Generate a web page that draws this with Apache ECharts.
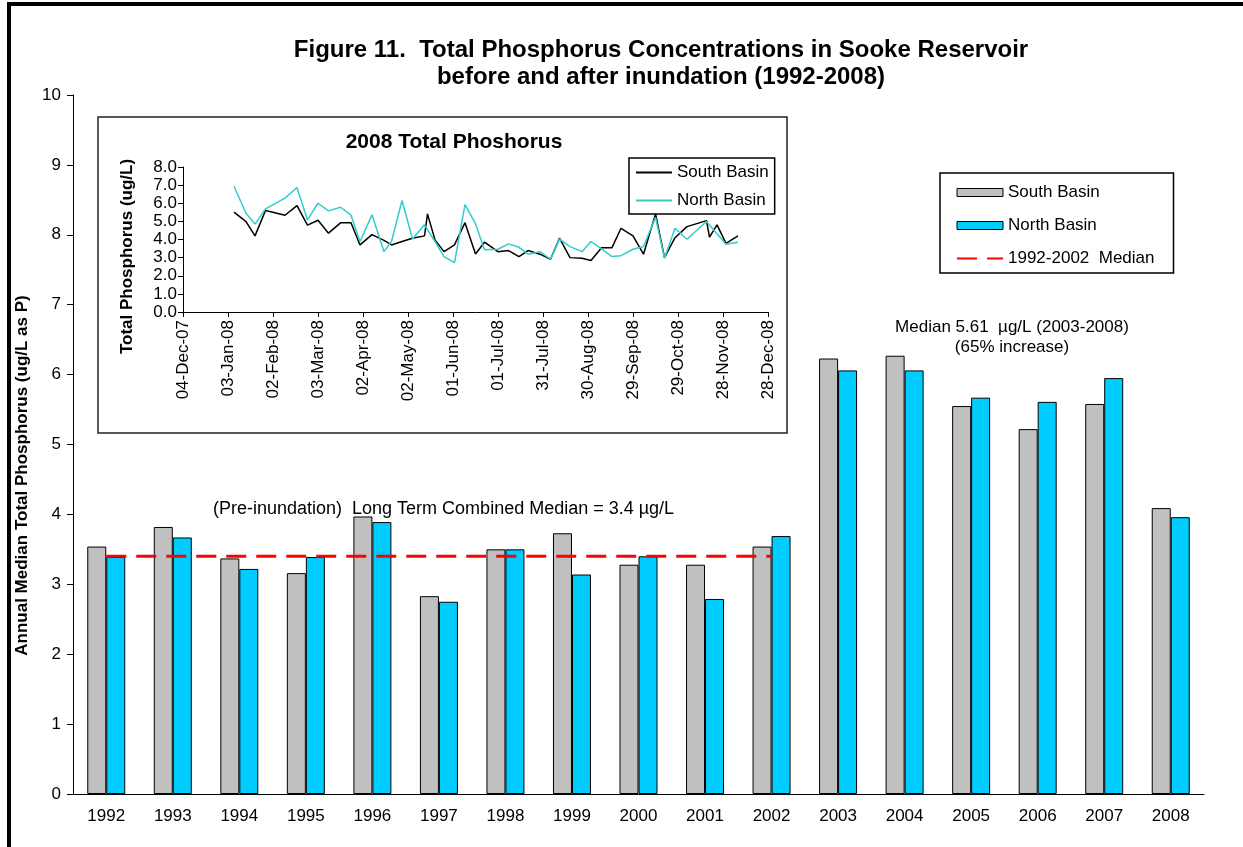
<!DOCTYPE html>
<html>
<head>
<meta charset="utf-8">
<title>Sooke Reservoir Total Phosphorus</title>
<script src="https://cdn.jsdelivr.net/npm/echarts@6/dist/echarts.min.js"></script>
<style>
  html, body { margin: 0; padding: 0; background: #fff; }
  #chart { width: 1243px; height: 847px; }
</style>
</head>
<body>
<div id="chart"></div>
<script>
// annual medians, ug/L
const years = ["1992", "1993", "1994", "1995", "1996", "1997", "1998", "1999", "2000",
  "2001", "2002", "2003", "2004", "2005", "2006", "2007", "2008"];
const southAnnual = [3.54, 3.82, 3.37, 3.16, 3.97, 2.83, 3.50, 3.73, 3.28, 3.28, 3.54,
  6.23, 6.27, 5.55, 5.22, 5.58, 4.09];
const northAnnual = [3.39, 3.67, 3.22, 3.39, 3.89, 2.75, 3.50, 3.14, 3.40, 2.79, 3.69,
  6.06, 6.06, 5.67, 5.61, 5.95, 3.96];
const preMedian = 3.4;
const preLastYear = "2002";

// 2008 samples (inset)
const sampleDates = ["2008-01-07", "2008-01-15", "2008-01-21", "2008-01-28", "2008-02-10",
  "2008-02-18", "2008-02-25", "2008-03-03", "2008-03-10", "2008-03-18", "2008-03-25",
  "2008-03-31", "2008-04-08", "2008-04-16", "2008-04-21", "2008-04-28", "2008-05-05",
  "2008-05-13", "2008-05-15", "2008-05-20", "2008-05-26", "2008-06-02", "2008-06-09",
  "2008-06-16", "2008-06-22", "2008-07-01", "2008-07-08", "2008-07-15", "2008-07-21",
  "2008-07-29", "2008-08-05", "2008-08-11", "2008-08-18", "2008-08-26", "2008-09-01",
  "2008-09-08", "2008-09-15", "2008-09-21", "2008-09-29", "2008-10-06", "2008-10-14",
  "2008-10-20", "2008-10-27", "2008-11-04", "2008-11-17", "2008-11-19", "2008-11-24",
  "2008-11-30", "2008-12-08"];
const southTP = [5.51, 4.99, 4.2, 5.6, 5.34, 5.87, 4.79, 5.06, 4.35, 4.92, 4.92,
  3.70, 4.27, 3.95, 3.70, 3.89, 4.07, 4.2, 5.41, 3.98, 3.33, 3.70, 4.93,
  3.2, 3.85, 3.33, 3.39, 3.06, 3.39, 3.19, 2.91, 4.07, 3.0, 2.97, 2.84,
  3.55, 3.55, 4.62, 4.2, 3.19, 5.41, 3.0, 4.1, 4.71, 5.04, 4.13, 4.81,
  3.79, 4.2];
const northTP = [6.94, 5.45, 4.85, 5.69, 6.28, 6.87, 5.08, 6.0, 5.58, 5.78, 5.34,
  3.89, 5.36, 3.33, 3.89, 6.15, 4.03, 4.81, null, 3.89, 3.06, 2.72, 5.93,
  4.87, 3.43, 3.46, 3.76, 3.57, 3.19, 3.33, 2.91, 4.02, 3.61, 3.33, 3.89,
  3.48, 3.06, 3.11, 3.46, 3.61, 5.22, 2.97, 4.62, 4.01, 4.99, null, null,
  3.74, 3.85];

// inset x axis: 30-day ticks from 04-Dec-07
const insetStart = "2007-12-04";
const insetStepDays = 30;
const insetSteps = 13;

const DAY = 86400000;
const MONTHS = ["Jan", "Feb", "Mar", "Apr", "May", "Jun", "Jul", "Aug", "Sep", "Oct", "Nov", "Dec"];
const startMs = Date.parse(insetStart);
const dayOf = (d) => (Date.parse(d) - startMs) / DAY;
const pad2 = (n) => (n < 10 ? "0" : "") + n;
const fmtDay = (v) => {
  const d = new Date(startMs + v * DAY);
  return pad2(d.getUTCDate()) + "-" + MONTHS[d.getUTCMonth()] + "-" + pad2(d.getUTCFullYear() % 100);
};

const lastPre = years.indexOf(preLastYear);
const medianLine = years.map((y, i) => (i <= lastPre ? preMedian : null));

const FONT = "Arial, 'Liberation Sans', sans-serif";
const txt = { fontFamily: FONT, color: "#000" };
const noSymbol = { opacity: 0 };

const chart = echarts.init(document.getElementById("chart"));

const option = {
  animation: false,
  backgroundColor: "#fff",
  textStyle: { fontFamily: FONT },
  title: {
    text: "Figure 11.  Total Phosphorus Concentrations in Sooke Reservoir\nbefore and after inundation (1992-2008)",
    left: 656,
    top: 32,
    textAlign: "center",
    textStyle: { ...txt, fontSize: 24, fontWeight: "bold", lineHeight: 27 },
  },
  legend: [
    {
      orient: "vertical",
      left: 940,
      top: 173,
      padding: [11, 19, 6, 16],
      itemWidth: 46,
      itemHeight: 8,
      itemGap: 16,
      borderColor: "#000",
      borderWidth: 1.5,
      textStyle: { ...txt, fontSize: 17 },
      data: [
        { name: "South Basin", icon: "rect", itemStyle: { borderColor: "#000", borderWidth: 1 } },
        { name: "North Basin", icon: "rect", itemStyle: { borderColor: "#000", borderWidth: 1 } },
        { name: "1992-2002  Median", itemStyle: noSymbol },
      ],
    },
    {
      orient: "vertical",
      left: 629,
      top: 158,
      padding: [6, 6, 5, 6],
      itemWidth: 36,
      itemHeight: 10,
      itemGap: 11,
      borderColor: "#000",
      borderWidth: 1.5,
      textStyle: { ...txt, fontSize: 17 },
      formatter: (name) => name.trim(),
      data: [
        { name: "South Basin ", itemStyle: noSymbol },
        { name: "North Basin ", itemStyle: noSymbol },
      ],
    },
  ],
  graphic: [
    // outer frame (top and left edges)
    { type: "line", shape: { x1: 7, y1: 4, x2: 1243, y2: 4 }, style: { stroke: "#000", lineWidth: 4 } },
    { type: "line", shape: { x1: 9, y1: 2, x2: 9, y2: 847 }, style: { stroke: "#000", lineWidth: 4 } },
    // inset box
    {
      type: "rect",
      z: -1,
      shape: { x: 98, y: 117, width: 689, height: 316 },
      style: { fill: "#fff", stroke: "#222", lineWidth: 1.5 },
    },
    {
      type: "text",
      x: 454,
      y: 142,
      style: {
        ...txt, text: "2008 Total Phoshorus", fontSize: 21, fontWeight: "bold",
        align: "center", verticalAlign: "middle", fill: "#000",
      },
    },
    {
      type: "text",
      x: 213,
      y: 509,
      style: {
        ...txt, text: "(Pre-inundation)  Long Term Combined Median = 3.4 µg/L", fontSize: 18,
        verticalAlign: "middle", fill: "#000",
      },
    },
    {
      type: "text",
      x: 1012,
      y: 317,
      style: {
        ...txt,
        text: "Median 5.61  µg/L (2003-2008)\n(65% increase)",
        fontSize: 17,
        lineHeight: 20,
        align: "center",
        verticalAlign: "top",
        fill: "#000",
      },
    },
  ],
  grid: [
    { left: 73, right: 39, top: 95, bottom: 53 },
    { left: 183, right: 475, top: 167, bottom: 535 },
  ],
  xAxis: [
    {
      type: "category",
      gridIndex: 0,
      data: years,
      axisLine: { lineStyle: { color: "#000", width: 1 } },
      axisTick: { length: 6, lineStyle: { color: "#000" } },
      axisLabel: { ...txt, fontSize: 17, margin: 14 },
    },
    {
      type: "value",
      gridIndex: 1,
      min: 0,
      max: insetStepDays * insetSteps,
      interval: insetStepDays,
      splitLine: { show: false },
      axisLine: { lineStyle: { color: "#000", width: 1 } },
      axisTick: { show: true, length: 5, lineStyle: { color: "#000" } },
      axisLabel: { ...txt, fontSize: 17, rotate: 90, margin: 8, formatter: fmtDay },
    },
  ],
  yAxis: [
    {
      type: "value",
      gridIndex: 0,
      min: 0,
      max: 10,
      interval: 1,
      splitLine: { show: false },
      axisLine: { show: true, lineStyle: { color: "#000", width: 1 } },
      axisTick: { show: true, length: 6, lineStyle: { color: "#000" } },
      axisLabel: { ...txt, fontSize: 17, margin: 12 },
      name: "Annual Median Total Phosphorus (ug/L as P)",
      nameLocation: "middle",
      nameGap: 34,
      nameTextStyle: { ...txt, fontSize: 17, fontWeight: "bold", padding: [0, 62, 0, 0] },
    },
    {
      type: "value",
      gridIndex: 1,
      min: 0,
      max: 8,
      interval: 1,
      splitLine: { show: false },
      axisLine: { show: true, lineStyle: { color: "#000", width: 1 } },
      axisTick: { show: true, length: 5, lineStyle: { color: "#000" } },
      axisLabel: { ...txt, fontSize: 17, margin: 6, formatter: (v) => v.toFixed(1) },
      name: "Total Phosphorus (ug/L)",
      nameLocation: "middle",
      nameGap: 47,
      nameTextStyle: { ...txt, fontSize: 17, fontWeight: "bold", padding: [0, 34, 0, 0] },
    },
  ],
  series: [
    {
      name: "South Basin",
      type: "bar",
      xAxisIndex: 0,
      yAxisIndex: 0,
      data: southAnnual,
      barWidth: 19,
      barGap: "0%",
      itemStyle: { color: "#C0C0C0", borderColor: "#000", borderWidth: 1 },
    },
    {
      name: "North Basin",
      type: "bar",
      xAxisIndex: 0,
      yAxisIndex: 0,
      data: northAnnual,
      barWidth: 19,
      barGap: "0%",
      itemStyle: { color: "#00CCFF", borderColor: "#000", borderWidth: 1 },
    },
    {
      name: "1992-2002  Median",
      type: "line",
      xAxisIndex: 0,
      yAxisIndex: 0,
      data: medianLine,
      symbol: "none",
      z: 5,
      lineStyle: { color: "#FF0000", width: 3, type: [20, 10] },
      itemStyle: { color: "#FF0000" },
    },
    {
      name: "South Basin ",
      type: "line",
      xAxisIndex: 1,
      yAxisIndex: 1,
      data: sampleDates.map((d, i) => [dayOf(d), southTP[i]]),
      connectNulls: true,
      symbol: "none",
      lineStyle: { color: "#000", width: 1.5 },
      itemStyle: { color: "#000" },
    },
    {
      name: "North Basin ",
      type: "line",
      xAxisIndex: 1,
      yAxisIndex: 1,
      data: sampleDates.map((d, i) => [dayOf(d), northTP[i]]),
      connectNulls: true,
      symbol: "none",
      lineStyle: { color: "#33CCCC", width: 1.5 },
      itemStyle: { color: "#33CCCC" },
    },
  ],
};

chart.setOption(option);
window.addEventListener("resize", () => chart.resize());
</script>
</body>
</html>
